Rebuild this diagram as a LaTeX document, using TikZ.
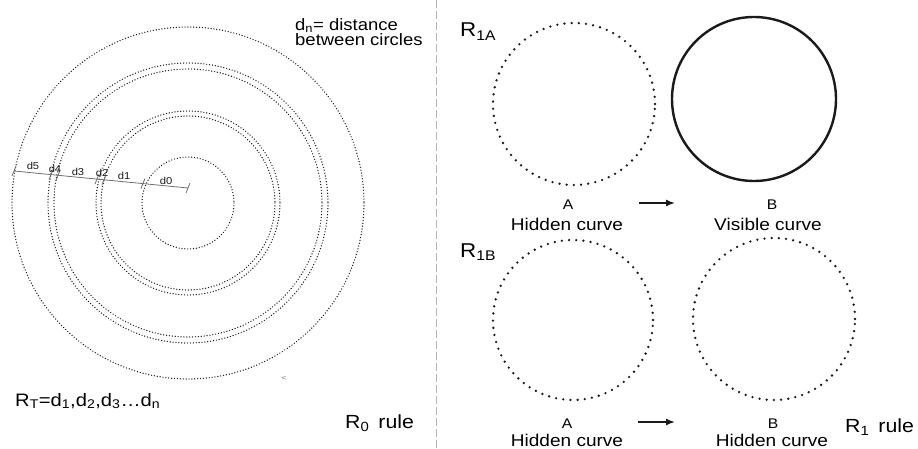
\documentclass[tikz,border=0pt]{standalone}
\usepackage{fontspec}
\setmainfont[FakeStretch=1.12]{Liberation Sans}
\usetikzlibrary{arrows.meta,positioning,calc}
\definecolor{ruleink}{HTML}{1A1A1A}
\definecolor{ruleline}{HTML}{6E6E6E}
\definecolor{rulesep}{HTML}{B4B4B4}

\begin{document}
\begin{tikzpicture}[
    x=1pt,
    y=-1pt,
    finedots/.style={draw=ruleink, line width=1.4pt, line cap=round, dash pattern=on 0pt off 2.9pt},
    bigdots/.style={circle, draw=ruleink, line width=2.6pt, line cap=round, dash pattern=on 0pt off 7.2pt, inner sep=0pt},
    solidc/.style={circle, draw=ruleink, line width=2.4pt, inner sep=0pt},
    dimline/.style={draw=ruleline, line width=0.8pt},
    dlab/.style={font=\fontsize{10}{10}\selectfont, inner sep=0pt, text=ruleink},
    letter/.style={font=\fontsize{14}{14}\selectfont, inner sep=0pt, anchor=base},
    curvelab/.style={font=\fontsize{17}{17}\selectfont, inner sep=0pt, anchor=base},
    rulelab/.style={font=\fontsize{19}{19}\selectfont, inner sep=0pt, anchor=base west},
    flow/.style={-{Latex[length=9pt,width=7pt]}, line width=1.5pt, draw=ruleink}
  ]
    \useasboundingbox (0,0) rectangle (918,449);

    % left half: R0 rule
    \coordinate (ctr) at (188,203);
    \foreach \r in {46,87,92,134,140,176}
      \draw[finedots] (ctr) circle[radius=\r];

    \coordinate (dimL) at (14,171);
    \coordinate (dimR) at (188,188);
    \draw[dimline] (dimL) -- (dimR);
    \foreach \t in {0,0.213,0.253,0.477,0.517,0.741,1}
      \draw[dimline] ($(dimL)!\t!(dimR)$) ++(-2,5) -- ++(4,-10);

    \node[dlab] (d5) at (33,166) {d5};
    \node[dlab] (d4) at (55,169) {d4};
    \node[dlab] (d3) at (78,172) {d3};
    \node[dlab] (d2) at (102,173) {d2};
    \node[dlab] (d1) at (124,176) {d1};
    \node[dlab] (d0) at (166,181) {d0};

    \node[font=\fontsize{7}{7}\selectfont, text=ruleline, inner sep=0pt] (stray) at (284,378) {<};

    \node[anchor=north west, inner sep=0pt, align=left, font=\fontsize{16.5}{13.8}\selectfont] (dndef) at (295,18) {d\textsubscript{n}= distance\\between circles};
    \node[rulelab, font=\fontsize{18}{18}\selectfont] (rtotal) at (15,406) {R\textsubscript{T}=d\textsubscript{1},d\textsubscript{2},d\textsubscript{3}\ldots d\textsubscript{n}};
    \node[rulelab] (rzero) at (345,428) {R\textsubscript{0}\, rule};

    \draw[rulesep, line width=0.9pt, dash pattern=on 8pt off 3pt] (436.5,0) -- (436.5,449);

    % right half: R1 rule
    \node[rulelab, font=\fontsize{20}{20}\selectfont] (r1a) at (460,37) {R\textsubscript{1A}};
    \node[rulelab, font=\fontsize{20}{20}\selectfont] (r1b) at (460,257) {R\textsubscript{1B}};

    \node[bigdots, minimum size=162pt] (hidA) at (574,104) {};
    \node[solidc, minimum size=164pt] (visB) at (754,99) {};
    \node[bigdots, minimum size=160pt] (hidA2) at (573,320) {};
    \node[bigdots, minimum size=162pt] (hidB2) at (774,319) {};

    \node[letter] (la) at (568,209.3) {A};
    \node[curvelab] (ha) at (567,230.5) {Hidden curve};
    \node[letter] (lb) at (772,209.3) {B};
    \node[curvelab] (vb) at (768,230.5) {Visible curve};
    \node[letter] (la2) at (567,428.3) {A};
    \node[curvelab] (ha2) at (567,446.5) {Hidden curve};
    \node[letter] (lb2) at (773,428.3) {B};
    \node[curvelab] (hb2) at (772,446.5) {Hidden curve};

    \coordinate (goA) at (639,203);
    \coordinate (goB) at (675,203);
    \coordinate (goA2) at (638,422);
    \coordinate (goB2) at (675,422);
    \draw[flow] (goA) -- (goB);
    \draw[flow] (goA2) -- (goB2);

    \node[rulelab] (rone) at (845,432) {R\textsubscript{1}\, rule};
  \end{tikzpicture}
\end{document}
